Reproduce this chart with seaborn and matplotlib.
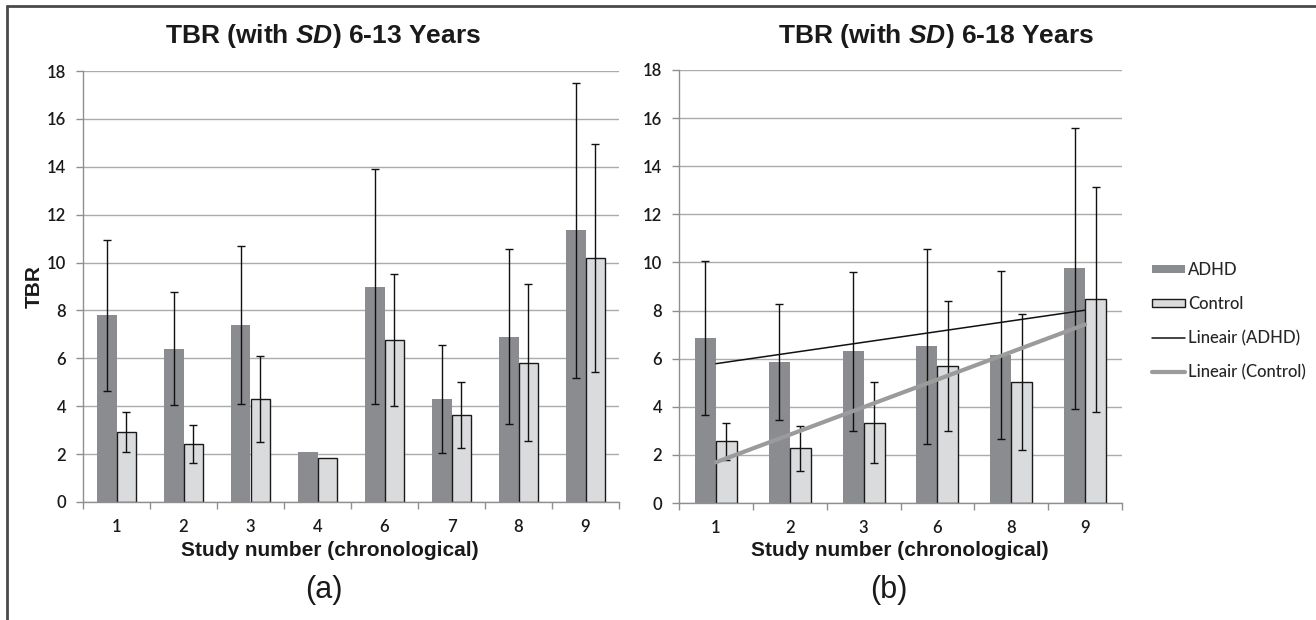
import numpy as np
import pandas as pd
import matplotlib
matplotlib.use("Agg")
import matplotlib.pyplot as plt
import seaborn as sns
from matplotlib.patches import Patch
from matplotlib.lines import Line2D

# ---------------- data ----------------
studies_a = ["1", "2", "3", "4", "6", "7", "8", "9"]
adhd_a = [7.8, 6.4, 7.4, 2.1, 9.0, 4.3, 6.9, 11.35]
adhd_sd_a = [3.15, 2.35, 3.3, np.nan, 4.92, 2.24, 3.65, 6.16]
control_a = [2.93, 2.42, 4.3, 1.83, 6.78, 3.64, 5.82, 10.18]
control_sd_a = [0.83, 0.79, 1.78, np.nan, 2.75, 1.37, 3.28, 4.77]

studies_b = ["1", "2", "3", "6", "8", "9"]
adhd_b = [6.85, 5.86, 6.3, 6.52, 6.14, 9.75]
adhd_sd_b = [3.2, 2.4, 3.3, 4.05, 3.5, 5.85]
control_b = [2.56, 2.28, 3.33, 5.7, 5.02, 8.46]
control_sd_b = [0.78, 0.94, 1.68, 2.7, 2.83, 4.68]

groups = ["ADHD", "Control"]
titles = ["6-13 Years", "6-18 Years"]

# ---------------- style ----------------
sns.set_theme(style="white")
plt.rcParams["font.family"] = ["Liberation Sans", "DejaVu Sans"]
plt.rcParams["mathtext.fontset"] = "custom"
plt.rcParams["mathtext.it"] = "Liberation Sans:bold:italic"
plt.rcParams["mathtext.rm"] = "Liberation Sans:bold"

C_ADHD = "#8b8c90"
C_CTRL = "#dadbdd"
C_GRID = "#ababab"
C_SPINE = "#8f8f8f"
TICK_FONT = ["Lato", "Liberation Sans", "DejaVu Sans"]

fig = plt.figure(figsize=(13.16, 6.2), dpi=100)
W, H = 1316, 620


def px_axes(x0, y0, x1, y1):
    return fig.add_axes([x0 / W, 1 - y1 / H, (x1 - x0) / W, (y1 - y0) / H])


ax_a = px_axes(83, 71, 619, 502)
ax_b = px_axes(679, 70, 1122, 503)


def draw_panel(ax, studies, adhd, adhd_sd, ctrl, ctrl_sd, trend=False):
    df = pd.DataFrame({
        "study": studies * 2,
        "TBR": list(adhd) + list(ctrl),
        "group": ["ADHD"] * len(studies) + ["Control"] * len(studies),
    })
    sns.barplot(data=df, x="study", y="TBR", hue="group", order=studies,
                hue_order=groups, palette=[C_ADHD, C_CTRL], width=0.57,
                errorbar=None, ax=ax, legend=False, saturation=1)
    for cont, sds, vals, is_ctrl in zip(ax.containers[:2], [adhd_sd, ctrl_sd],
                                        [adhd, ctrl], [False, True]):
        xs = []
        for bar in cont:
            if is_ctrl:
                bar.set_edgecolor("#1a1a1a")
                bar.set_linewidth(1.0)
            else:
                bar.set_edgecolor("none")
                bar.set_linewidth(0)
            xs.append(bar.get_x() + bar.get_width() / 2)
        ax.errorbar(xs, vals, yerr=sds, fmt="none", ecolor="#111111",
                    elinewidth=1.0, capsize=3.2, capthick=1.0, zorder=5)
    if trend:
        pos = np.arange(len(studies), dtype=float)
        sns.regplot(x=pos, y=np.array(adhd), scatter=False, ci=None,
                    truncate=True, ax=ax,
                    line_kws=dict(color="#111111", lw=1.1, zorder=6))
        sns.regplot(x=pos, y=np.array(ctrl), scatter=False, ci=None,
                    truncate=True, ax=ax,
                    line_kws=dict(color="#9b9b9b", lw=3.0, zorder=6))
    n = len(studies)
    ax.set_xlim(-0.5, n - 0.5)
    ax.set_ylim(0, 18)
    ax.set_yticks(np.arange(0, 19, 2))
    ax.set_xticks(np.arange(n))
    ax.set_xticklabels(studies)
    ax.set_xticks(np.arange(-0.5, n, 1.0), minor=True)
    ax.tick_params(axis="x", which="major", length=0, pad=12, labelsize=12,
                   labelcolor="#1a1a1a")
    ax.tick_params(axis="x", which="minor", length=5, width=1,
                   color=C_SPINE, direction="out", bottom=True)
    ax.tick_params(axis="y", length=5, width=1, color=C_SPINE,
                   direction="out", left=True, pad=7, labelsize=12,
                   labelcolor="#1a1a1a")
    for lab in ax.get_xticklabels() + ax.get_yticklabels():
        lab.set_family(TICK_FONT)
        lab.set_fontweight("semibold")
    ax.set_xlabel("")
    ax.set_ylabel("")
    ax.yaxis.grid(True, color=C_GRID, lw=1.0)
    ax.xaxis.grid(False)
    ax.set_axisbelow(True)
    for s in ["top", "right"]:
        ax.spines[s].set_visible(False)
    for s in ["left", "bottom"]:
        ax.spines[s].set_color(C_SPINE)
        ax.spines[s].set_linewidth(1.0)


draw_panel(ax_a, studies_a, adhd_a, adhd_sd_a, control_a, control_sd_a)
draw_panel(ax_b, studies_b, adhd_b, adhd_sd_b, control_b, control_sd_b, trend=True)

# ---------------- texts ----------------
def ftext(x, y, s, **kw):
    fig.text(x / W, 1 - y / H, s, ha="center", va="center", **kw)


ftext(323, 36, r"TBR (with $\mathit{SD}$) " + titles[0], fontsize=19,
      fontweight="bold", color="#1a1a1a")
ftext(936, 36, r"TBR (with $\mathit{SD}$) " + titles[1], fontsize=19,
      fontweight="bold", color="#1a1a1a")
ftext(330, 551, "Study number (chronological)", fontsize=15,
      fontweight="bold", color="#1a1a1a")
ftext(900, 551, "Study number (chronological)", fontsize=15,
      fontweight="bold", color="#1a1a1a")
ftext(34, 287, "TBR", fontsize=15, fontweight="bold", rotation=90,
      color="#1a1a1a")
ftext(324, 590, "(a)", fontsize=22, color="#1a1a1a")
ftext(889, 590, "(b)", fontsize=22, color="#1a1a1a")

# ---------------- legend ----------------
handles = [
    Patch(facecolor=C_ADHD, edgecolor="none"),
    Patch(facecolor=C_CTRL, edgecolor="#1a1a1a", linewidth=1.0),
    Line2D([], [], color="#111111", lw=1.1),
    Line2D([], [], color="#9b9b9b", lw=3.0),
]
labels = ["ADHD", "Control", "Lineair (ADHD)", "Lineair (Control)"]
fig.legend(handles, labels, loc="upper left",
           bbox_to_anchor=(1152 / W, 1 - 262 / H), frameon=False,
           prop=dict(family=TICK_FONT, size=12, weight="medium"),
           handlelength=1.95, handleheight=0.42,
           handletextpad=0.2, labelspacing=1.08, borderpad=0,
           borderaxespad=0)

# ---------------- frame ----------------
fig.add_artist(Line2D([7 / W, 1.0], [1 - 6 / H, 1 - 6 / H],
                      transform=fig.transFigure, color="#4a4a4a", lw=2))
fig.add_artist(Line2D([7 / W, 7 / W], [1 - 6 / H, 0.0],
                      transform=fig.transFigure, color="#4a4a4a", lw=2))

fig.savefig("out.png", dpi=100, facecolor="white")
